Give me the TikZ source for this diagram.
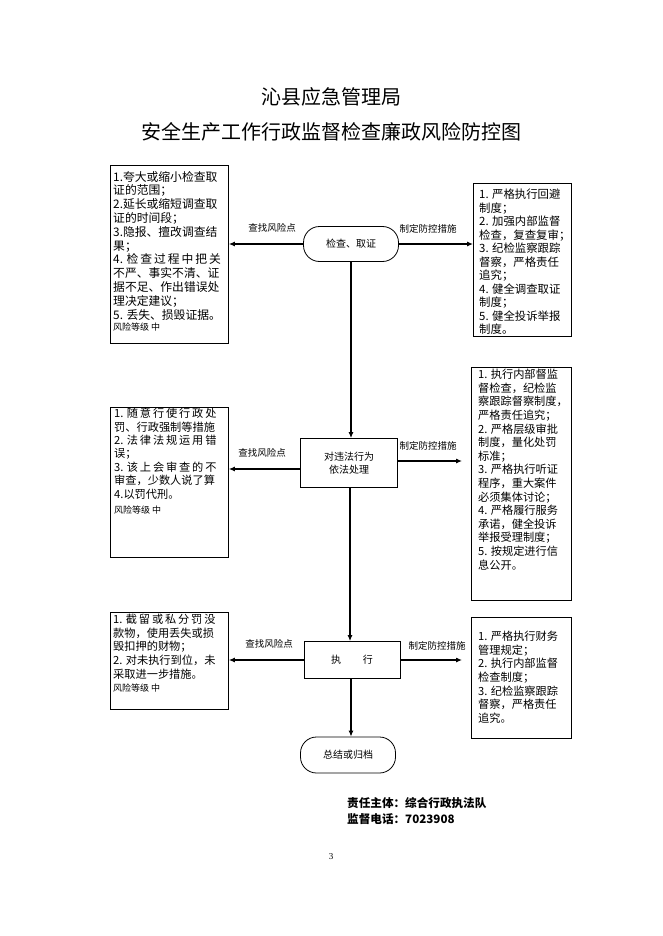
\documentclass[tikz,border=0pt]{standalone}
\usepackage{fontspec}
\setmainfont{Noto Sans CJK SC}
\newfontfamily\lserif{Liberation Serif}
\usetikzlibrary{arrows.meta}
\tikzset{
  box/.style={draw, line width=0.8pt, inner sep=0pt, anchor=north west},
  flow/.style={draw, line width=0.8pt, inner sep=0pt, minimum width=95pt, minimum height=37pt, font=\fontsize{10}{13}\selectfont, align=center},
  rflow/.style={flow, rounded corners=16pt},
  txt/.style={inner sep=0pt, anchor=north west, align=left, font=\fontsize{11.2}{13.6}\selectfont},
  lbl/.style={inner sep=0pt, font=\fontsize{9.5}{11}\selectfont},
  arr/.style={line width=1.1pt, -{Latex[length=6pt,width=5pt]}},
}
\newcommand{\risk}{{\fontsize{9}{11}\selectfont 风险等级\ 中}}
\begin{document}
\begin{tikzpicture}[x=1pt,y=-1pt]
\useasboundingbox (0,0) rectangle (662,936);
% titles
\node[inner sep=0pt, font=\fontsize{20}{24}\selectfont] (t1) at (331,97) {沁县应急管理局};
\node[inner sep=0pt, font=\fontsize{20}{24}\selectfont] (t2) at (331,132) {安全生产工作行政监督检查廉政风险防控图};

% flow nodes
\node[rflow, minimum width=95pt, minimum height=35pt] (n1) at (351,244) {检查、取证};
\node[flow, minimum width=97pt, minimum height=49pt] (n2) at (349,463) {对违法行为\\依法处理};
\node[flow, minimum width=96pt, minimum height=37pt] (n3) at (352,660) {执\hspace{2.2em}行};
\node[rflow, minimum width=95pt, minimum height=36pt] (n4) at (348,755) {总结或归档};

% side boxes
\node[box, minimum width=118pt, minimum height=178pt] (L1) at (110,165) {};
\node[box, minimum width=98pt, minimum height=153pt] (R1) at (473,183) {};
\node[box, minimum width=118pt, minimum height=150pt] (L2) at (110,407) {};
\node[box, minimum width=100pt, minimum height=233pt] (R2) at (471,367) {};
\node[box, minimum width=118pt, minimum height=97pt] (L3) at (110,612) {};
\node[box, minimum width=100pt, minimum height=121pt] (R3) at (471,617) {};

% box texts
\node[txt, font=\fontsize{11.8}{13.8}\selectfont] (L1t) at (113,171) {1.夸大或缩小检查取\\证的范围；\\2.延长或缩短调查取\\证的时间段；\\3.隐报、擅改调查结\\果；\\4. 检\,查\,过\,程\,中\,把\,关\\不严、事实不清、证\\据不足、作出错误处\\理决定建议；\\5. 丢失、损毁证据。\\[-2pt]\risk};
\node[txt, font=\fontsize{11.4}{13.5}\selectfont] (R1t) at (479,189) {1. 严格执行回避\\制度；\\2. 加强内部监督\\检查，复查复审；\\3. 纪检监察跟踪\\督察，严格责任\\追究；\\4. 健全调查取证\\制度；\\5. 健全投诉举报\\制度。};
\node[txt, font=\fontsize{11.2}{13.4}\selectfont] (L2t) at (114,408) {1. 随\,意\,行\,使\,行\,政\,处\\罚、行政强制等措施\\2. 法\,律\,法\,规\,运\,用\,错\\误；\\3. 该\,上\,会\,审\,查\,的\,不\\审查，少数人说了算\\4.以罚代刑。\\[2pt]\risk};
\node[txt] (R2t) at (478,369) {1. 执行内部督监\\督检查，纪检监\\察跟踪督察制度，\\严格责任追究；\\2. 严格层级审批\\制度，量化处罚\\标准；\\3. 严格执行听证\\程序，重大案件\\必须集体讨论；\\4. 严格履行服务\\承诺，健全投诉\\举报受理制度；\\5. 按规定进行信\\息公开。};
\node[txt] (L3t) at (113,614) {1. 截\,留\,或\,私\,分\,罚\,没\\款物，使用丢失或损\\毁扣押的财物；\\2. 对未执行到位，未\\采取进一步措施。\\\risk};
\node[txt] (R3t) at (478,631) {1. 严格执行财务\\管理规定；\\2. 执行内部监督\\检查制度；\\3. 纪检监察跟踪\\督察，严格责任\\追究。};

% arrows level 1
\draw[arr] (n1.west) -- (n1.west -| L1.east);
\draw[arr] (n1.east) -- (n1.east -| R1.west);
\node[lbl] (a1) at (272,228) {查找风险点};
\node[lbl] (b1) at (428,229) {制定防控措施};
% level 2
\coordinate (n2l) at ([yshift=-6pt]n2.west);
\coordinate (n2r) at ([yshift=2pt]n2.east);
\draw[arr] (n2l) -- (n2l -| L2.east);
\draw[arr] (n2r) -- ([xshift=-9pt]n2r -| R2.west);
\node[lbl] (a2) at (262,453) {查找风险点};
\node[lbl] (b2) at (428,446) {制定防控措施};
% level 3
\draw[arr] (n3.west) -- (n3.west -| L3.east);
\draw[arr] (n3.east) -- ([xshift=-9pt]n3.east -| R3.west);
\node[lbl] (a3) at (269,644) {查找风险点};
\node[lbl] (b3) at (437,646) {制定防控措施};
% vertical
\draw[arr] (n1.south) -- (n1.south |- n2.north);
\draw[arr] ([xshift=1pt]n2.south) -- ([xshift=1pt]n2.south |- n3.north);
\draw[arr] ([xshift=-1pt]n3.south) -- ([xshift=-1pt]n3.south |- n4.north);

% footer
\node[inner sep=0pt, anchor=west, font=\fontsize{11.6}{14}\selectfont\bfseries] (f1) at (347,803) {责任主体：综合行政执法队};
\node[inner sep=0pt, anchor=west, font=\fontsize{11.6}{14}\selectfont\bfseries] (f2) at (347,819) {监督电话：7023908};
\node[inner sep=0pt, font=\fontsize{9}{11}\lserif] (pg) at (331,857) {3};
\end{tikzpicture}
\end{document}
